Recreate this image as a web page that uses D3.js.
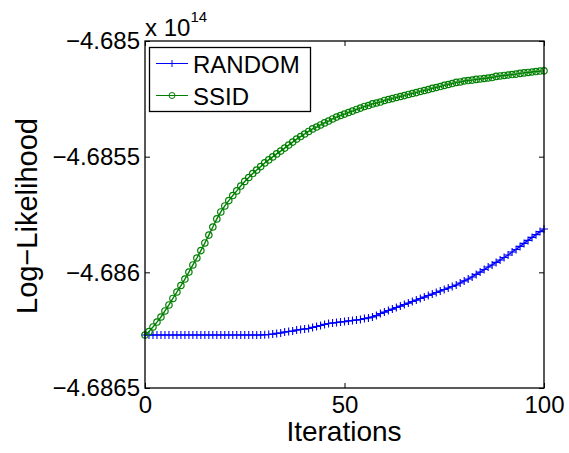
<!DOCTYPE html>
<html><head><meta charset="utf-8">
<script src="https://cdn.jsdelivr.net/npm/d3@7"></script>
<style>
html,body{margin:0;padding:0;background:#fff;}
text{font-family:"Liberation Sans",Arial,Helvetica,sans-serif;fill:#000;}
</style></head><body>
<svg id="chart" width="569" height="453"></svg>
<script>
// ---- data (values in units of 10^14) ----
const iterations = d3.range(0, 101);
const seriesNames = ["RANDOM", "SSID"];
const randomVals = [
-4.686271,-4.686271,-4.686271,-4.686271,-4.686271,-4.686271,-4.686271,-4.686271,-4.686271,-4.686271,
-4.686271,-4.686271,-4.686271,-4.686271,-4.686271,-4.686271,-4.686271,-4.686271,-4.686271,-4.686271,
-4.686271,-4.686271,-4.686271,-4.686271,-4.686271,-4.686271,-4.686271,-4.686271,-4.686271,-4.686271,
-4.686270,-4.686269,-4.686267,-4.686264,-4.686262,-4.686258,-4.686256,-4.686254,-4.686249,-4.686247,
-4.686245,-4.686243,-4.686238,-4.686234,-4.686230,-4.686225,-4.686221,-4.686219,-4.686217,-4.686215,
-4.686213,-4.686210,-4.686208,-4.686206,-4.686204,-4.686200,-4.686197,-4.686193,-4.686187,-4.686178,
-4.686172,-4.686165,-4.686159,-4.686152,-4.686146,-4.686139,-4.686133,-4.686126,-4.686120,-4.686113,
-4.686107,-4.686100,-4.686094,-4.686087,-4.686081,-4.686074,-4.686068,-4.686061,-4.686055,-4.686046,
-4.686037,-4.686029,-4.686020,-4.686009,-4.685999,-4.685988,-4.685977,-4.685968,-4.685957,-4.685947,
-4.685936,-4.685925,-4.685912,-4.685901,-4.685888,-4.685875,-4.685862,-4.685849,-4.685837,-4.685824,
-4.685813];
const ssidVals = [
-4.686271,-4.686256,-4.686236,-4.686215,-4.686193,-4.686167,-4.686141,-4.686113,-4.686085,-4.686057,
-4.686029,-4.685999,-4.685968,-4.685938,-4.685906,-4.685873,-4.685839,-4.685804,-4.685769,-4.685739,
-4.685713,-4.685690,-4.685668,-4.685648,-4.685627,-4.685607,-4.685590,-4.685573,-4.685558,-4.685543,
-4.685527,-4.685514,-4.685501,-4.685488,-4.685476,-4.685463,-4.685450,-4.685437,-4.685424,-4.685413,
-4.685402,-4.685391,-4.685380,-4.685372,-4.685363,-4.685354,-4.685346,-4.685337,-4.685329,-4.685322,
-4.685316,-4.685309,-4.685303,-4.685296,-4.685290,-4.685283,-4.685279,-4.685272,-4.685268,-4.685264,
-4.685257,-4.685253,-4.685249,-4.685244,-4.685240,-4.685236,-4.685231,-4.685227,-4.685223,-4.685218,
-4.685214,-4.685210,-4.685205,-4.685201,-4.685197,-4.685192,-4.685188,-4.685184,-4.685179,-4.685177,
-4.685173,-4.685171,-4.685169,-4.685166,-4.685164,-4.685162,-4.685160,-4.685158,-4.685153,-4.685151,
-4.685149,-4.685147,-4.685145,-4.685143,-4.685140,-4.685138,-4.685136,-4.685134,-4.685132,-4.685130,
-4.685129];
const xTicks = [0, 50, 100];
const xTickLabels = ["0", "50", "100"];
const yTicks = [-4.6865, -4.686, -4.6855, -4.685];
const yTickLabels = ["\u22124.6865", "\u22124.686", "\u22124.6855", "\u22124.685"];
const xLabel = "Iterations";
const yLabel = "Log\u2212Likelihood";

// ---- layout ----
const L = 145, R = 544, T = 41, B = 388;
const svg = d3.select("#chart");
const x = d3.scaleLinear().domain([0, 100]).range([L, R]);
const y = d3.scaleLinear().domain([-4.6865, -4.685]).range([B, T]);
const colors = {RANDOM: "#0000ff", SSID: "#008000"};

// axes with inward ticks
const axFont = 24;
function styleAxis(g){ g.select(".domain").remove(); g.selectAll(".tick line").attr("stroke","#000").attr("stroke-width",1);
  g.selectAll(".tick text").attr("font-size", axFont).attr("font-family","Liberation Sans, Arial, sans-serif").attr("fill","#000"); }
svg.append("g").attr("transform",`translate(0,${B})`)
  .call(d3.axisBottom(x).tickValues(xTicks).tickFormat((d,i)=>xTickLabels[i]).tickSize(-5).tickPadding(8))
  .call(styleAxis);
svg.append("g").attr("transform",`translate(0,${T})`)
  .call(d3.axisTop(x).tickValues(xTicks).tickFormat("").tickSize(-5)).call(styleAxis);
svg.append("g").attr("transform",`translate(${L},0)`)
  .call(d3.axisLeft(y).tickValues(yTicks).tickFormat((d,i)=>yTickLabels[i]).tickSize(-5).tickPadding(5))
  .call(styleAxis);
svg.append("g").attr("transform",`translate(${R},0)`)
  .call(d3.axisRight(y).tickValues(yTicks).tickFormat("").tickSize(-5)).call(styleAxis);

// data
const series = [
  {name: "RANDOM", vals: randomVals},
  {name: "SSID", vals: ssidVals}
];
const line = d3.line().x((d,i)=>x(iterations[i])).y(d=>y(d));
const plot = svg.append("g");
function plusPath(cx, cy, s){ return `M${cx-s},${cy}H${cx+s}M${cx},${cy-s}V${cy+s}`; }
series.forEach(s => {
  const c = colors[s.name];
  plot.append("path").datum(s.vals).attr("d", line).attr("fill","none")
    .attr("stroke", c).attr("stroke-width", 1.4);
  if (s.name === "RANDOM") {
    plot.append("path").attr("d", s.vals.map((v,i)=>plusPath(x(iterations[i]), y(v), 4)).join(""))
      .attr("stroke", c).attr("stroke-width", 1.1).attr("fill","none");
  } else {
    plot.selectAll(null).data(s.vals).enter().append("circle")
      .attr("cx",(d,i)=>x(iterations[i])).attr("cy",d=>y(d)).attr("r",3.2)
      .attr("fill","none").attr("stroke", c).attr("stroke-width", 1.2);
  }
});

// box
svg.append("rect").attr("x",L).attr("y",T).attr("width",R-L).attr("height",B-T)
  .attr("fill","none").attr("stroke","#000").attr("stroke-width",1.3);

// exponent
const ex = svg.append("text").attr("x", L).attr("y", 36).attr("font-size", 24);
ex.append("tspan").text("x 10");
ex.append("tspan").attr("font-size", 15).attr("dy", -14).text("14");

// axis labels
svg.append("text").attr("x", 344).attr("y", 441).attr("text-anchor","middle")
  .attr("font-size", 28).text(xLabel);
svg.append("text").attr("transform","translate(37,216) rotate(-90)").attr("text-anchor","middle")
  .attr("font-size", 29).text(yLabel);

// legend
const lg = svg.append("g");
lg.append("rect").attr("x",149.5).attr("y",47.5).attr("width",161).attr("height",64)
  .attr("fill","#fff").attr("stroke","#000").attr("stroke-width",1.3);
series.forEach((s,i) => {
  const cy = 63.5 + i*32, c = colors[s.name];
  lg.append("line").attr("x1",156).attr("x2",188).attr("y1",cy).attr("y2",cy).attr("stroke",c).attr("stroke-width",1);
  if (s.name === "RANDOM") lg.append("path").attr("d", plusPath(172, cy, 3.5)).attr("stroke",c).attr("stroke-width",1);
  else lg.append("circle").attr("cx",172).attr("cy",cy).attr("r",3).attr("fill","none").attr("stroke",c).attr("stroke-width",1);
  lg.append("text").attr("x",193).attr("y",cy+9.5).attr("font-size",24).text(s.name);
});
</script>
</body></html>
